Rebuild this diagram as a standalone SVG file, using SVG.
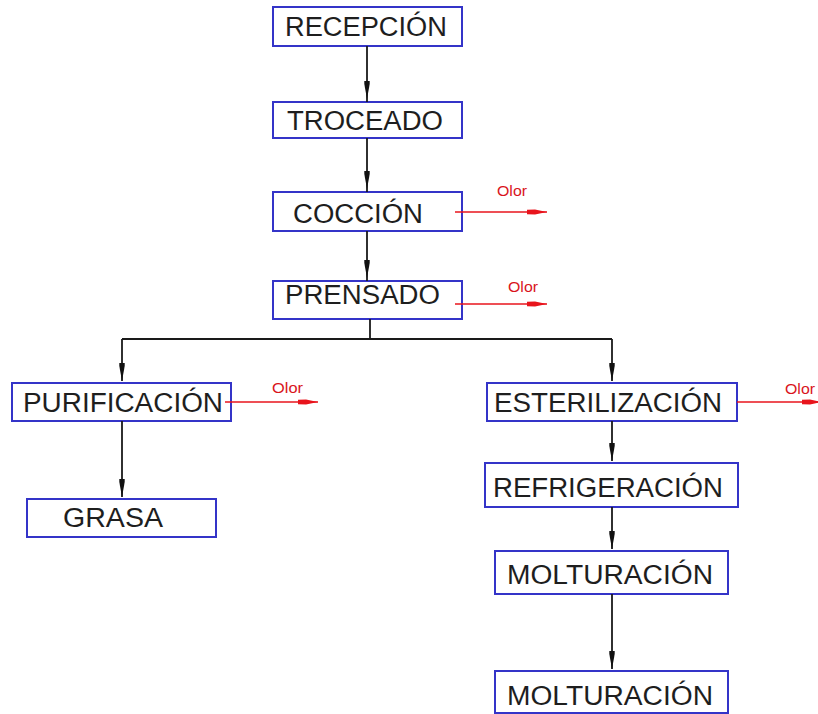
<svg xmlns="http://www.w3.org/2000/svg" width="818" height="714" viewBox="0 0 818 714">
  <style>
    .box { fill: #ffffff; stroke: #3434c8; stroke-width: 2; }
    .lbl { font-family: "Liberation Sans", Arial, sans-serif; font-size: 27px; fill: #1e1e1e; }
    .flow { fill: none; stroke: #1a1a1a; stroke-width: 1.8; }
    .odor { fill: none; stroke: #e8141c; stroke-width: 1.6; }
    .odor-lbl { font-family: "Liberation Sans", Arial, sans-serif; font-size: 14px; fill: #d9141c; }
  </style>
  <defs>
    <marker id="arrow" viewBox="0 0 18 6" refX="18" refY="3" markerWidth="18" markerHeight="6" markerUnits="userSpaceOnUse" orient="auto">
      <path d="M0,0.3 L3,0.3 L18,3 L3,5.7 L0,5.7 Z" fill="#111111"/>
    </marker>
    <marker id="arrow-red" viewBox="0 0 20 6" refX="20" refY="3" markerWidth="20" markerHeight="6" markerUnits="userSpaceOnUse" orient="auto">
      <path d="M0,0.8 L8,0.5 L20,3 L8,5.5 L0,5.2 Z" fill="#e8141c"/>
    </marker>
  </defs>

  <g id="recepcion">
    <rect class="box" x="273" y="7" width="189" height="39"/>
    <text class="lbl" x="285" y="36" textLength="162" lengthAdjust="spacingAndGlyphs">RECEPCIÓN</text>
  </g>
  <g id="troceado">
    <rect class="box" x="273" y="102" width="189" height="36"/>
    <text class="lbl" x="287" y="130" textLength="156" lengthAdjust="spacingAndGlyphs">TROCEADO</text>
  </g>
  <g id="coccion">
    <rect class="box" x="273" y="192" width="189" height="39"/>
    <text class="lbl" x="293" y="223" textLength="130" lengthAdjust="spacingAndGlyphs">COCCIÓN</text>
  </g>
  <g id="prensado">
    <rect class="box" x="273" y="281" width="189" height="38"/>
    <text class="lbl" x="285" y="304" textLength="155" lengthAdjust="spacingAndGlyphs">PRENSADO</text>
  </g>
  <g id="purificacion">
    <rect class="box" x="12" y="383" width="219" height="38"/>
    <text class="lbl" x="23" y="412" textLength="200" lengthAdjust="spacingAndGlyphs">PURIFICACIÓN</text>
  </g>
  <g id="grasa">
    <rect class="box" x="27" y="499" width="189" height="38"/>
    <text class="lbl" x="63" y="527" textLength="100" lengthAdjust="spacingAndGlyphs">GRASA</text>
  </g>
  <g id="esterilizacion">
    <rect class="box" x="487" y="383" width="250" height="38"/>
    <text class="lbl" x="494" y="412" textLength="228" lengthAdjust="spacingAndGlyphs">ESTERILIZACIÓN</text>
  </g>
  <g id="refrigeracion">
    <rect class="box" x="485" y="463" width="253" height="44"/>
    <text class="lbl" x="493" y="497" textLength="230" lengthAdjust="spacingAndGlyphs">REFRIGERACIÓN</text>
  </g>
  <g id="molturacion-1">
    <rect class="box" x="495" y="551" width="233" height="43"/>
    <text class="lbl" x="507" y="584" textLength="206" lengthAdjust="spacingAndGlyphs">MOLTURACIÓN</text>
  </g>
  <g id="molturacion-2">
    <rect class="box" x="495" y="671" width="233" height="42"/>
    <text class="lbl" x="507" y="705" textLength="206" lengthAdjust="spacingAndGlyphs">MOLTURACIÓN</text>
  </g>

  <!-- process flow connectors, drawn over the boxes so the odour lines start inside them -->
  <g id="connectors">
    <line class="flow" x1="367" y1="46" x2="367" y2="99" marker-end="url(#arrow)"/>
    <line class="flow" x1="367" y1="99" x2="367" y2="102"/>
    <line class="flow" x1="367" y1="138" x2="367" y2="189" marker-end="url(#arrow)"/>
    <line class="flow" x1="367" y1="189" x2="367" y2="192"/>
    <line class="flow" x1="367" y1="231" x2="367" y2="278" marker-end="url(#arrow)"/>
    <line class="flow" x1="367" y1="278" x2="367" y2="281"/>
    <polyline class="flow" points="370,319 370,339"/>
    <polyline class="flow" points="122,339 612,339"/>
    <line class="flow" x1="122" y1="339" x2="122" y2="381" marker-end="url(#arrow)"/>
    <line class="flow" x1="612" y1="339" x2="612" y2="381" marker-end="url(#arrow)"/>
    <line class="flow" x1="122" y1="421" x2="122" y2="497" marker-end="url(#arrow)"/>
    <line class="flow" x1="612" y1="421" x2="612" y2="461" marker-end="url(#arrow)"/>
    <line class="flow" x1="612" y1="507" x2="612" y2="549" marker-end="url(#arrow)"/>
    <line class="flow" x1="612" y1="594" x2="612" y2="669" marker-end="url(#arrow)"/>

    <!-- odour emissions -->
    <line class="odor" x1="455" y1="212" x2="547" y2="212" marker-end="url(#arrow-red)"/>
    <line class="odor" x1="455" y1="304" x2="547" y2="304" marker-end="url(#arrow-red)"/>
    <line class="odor" x1="225" y1="402" x2="318" y2="402" marker-end="url(#arrow-red)"/>
    <line class="odor" x1="737" y1="402" x2="822" y2="402" marker-end="url(#arrow-red)"/>
    <text class="odor-lbl" x="497" y="196" textLength="30" lengthAdjust="spacingAndGlyphs">Olor</text>
    <text class="odor-lbl" x="508" y="292" textLength="30" lengthAdjust="spacingAndGlyphs">Olor</text>
    <text class="odor-lbl" x="272" y="393" textLength="31" lengthAdjust="spacingAndGlyphs">Olor</text>
    <text class="odor-lbl" x="785" y="394" textLength="30" lengthAdjust="spacingAndGlyphs">Olor</text>
  </g>
</svg>
